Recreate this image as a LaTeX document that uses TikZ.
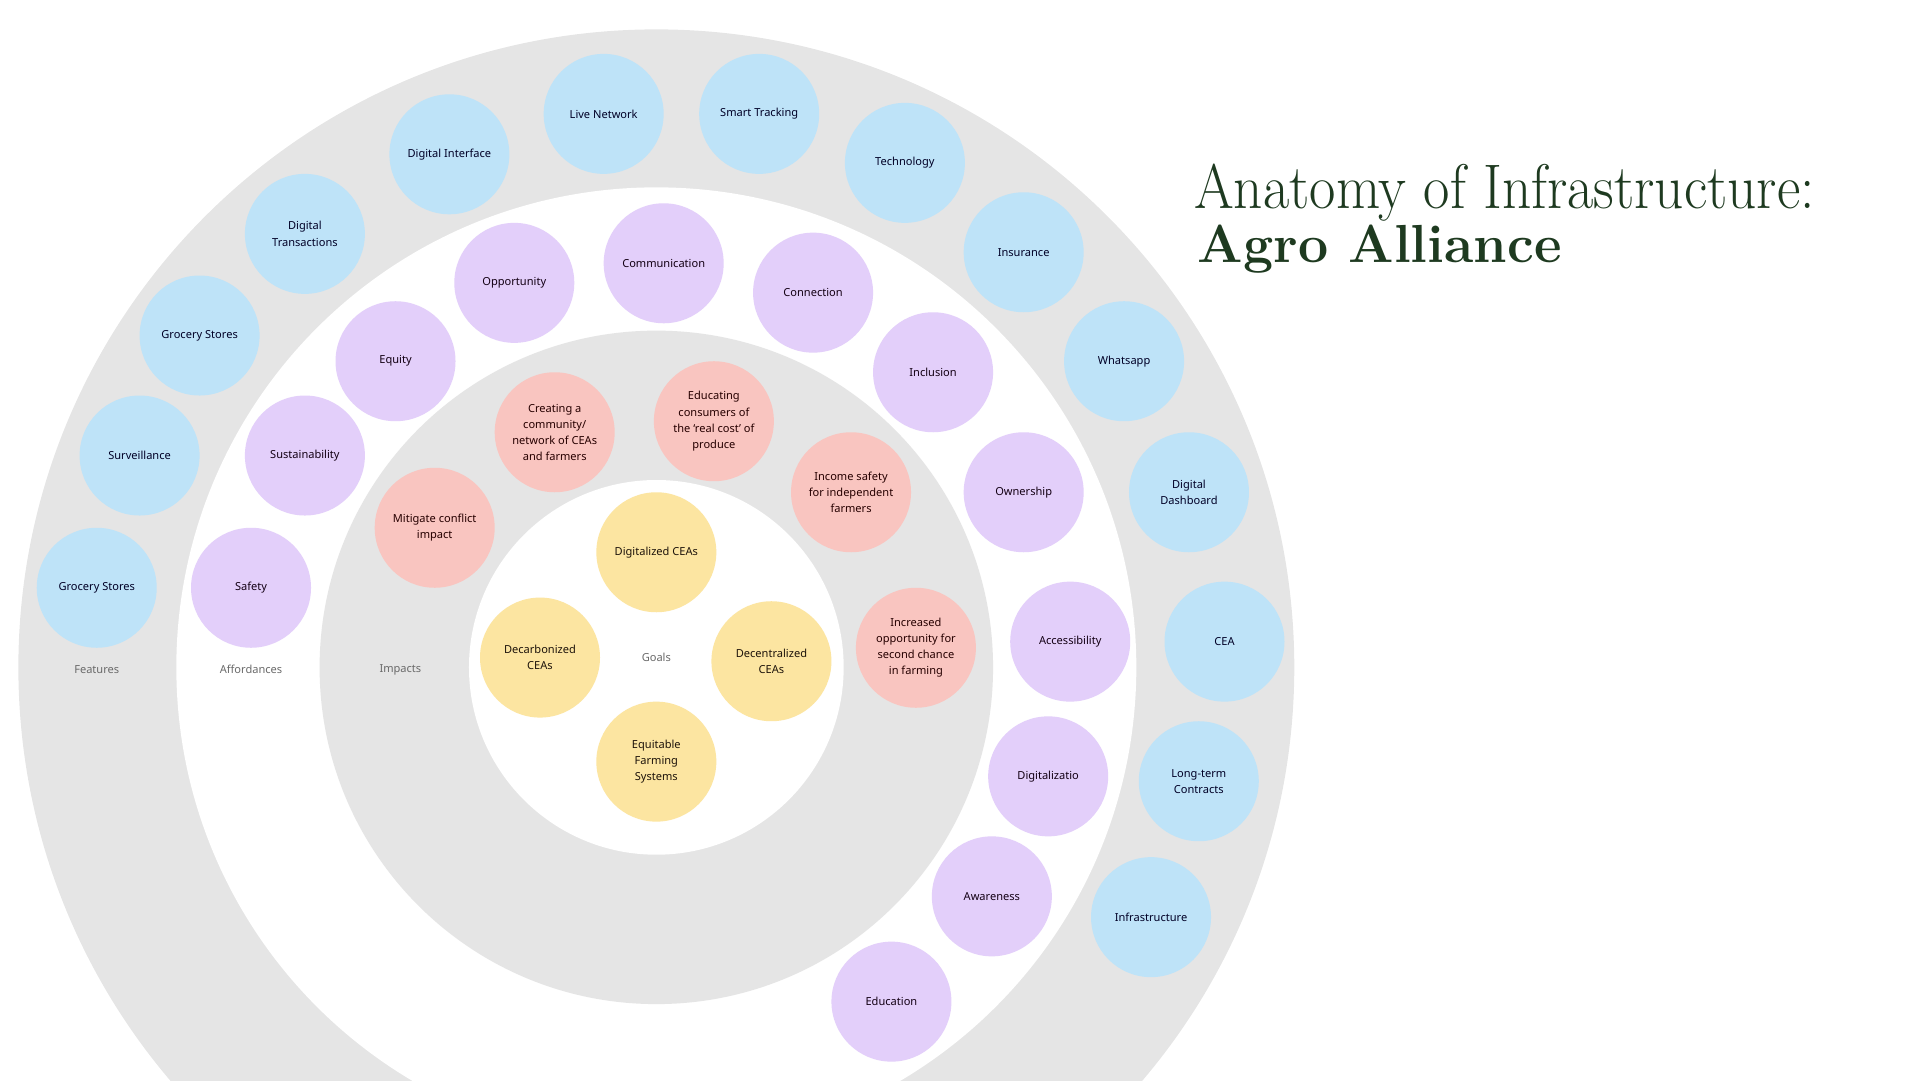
\documentclass[tikz,border=0pt]{standalone}
\usepackage{fontspec}
\setsansfont{Noto Sans}
\definecolor{ringgray}{HTML}{E5E5E5}
\definecolor{featblue}{HTML}{BEE3F8}
\definecolor{affpurple}{HTML}{E3CFFA}
\definecolor{imppink}{HTML}{F9C5C0}
\definecolor{goalyellow}{HTML}{FCE5A1}
\definecolor{titlegreen}{HTML}{1E3A20}
\definecolor{labelgray}{HTML}{6A6A6A}

\begin{document}
\begin{tikzpicture}[x=0.02449cm, y=-0.02449cm,
	bub/.style={circle, minimum size=2.4cm, inner sep=0pt, align=center,
		font=\sffamily\fontsize{6.3}{9.2}\selectfont},
	feat/.style={bub, fill=featblue, text=black!85!blue},
	aff/.style={bub, fill=affpurple, text=black!85!violet},
	imp/.style={bub, fill=imppink, text=black!85!red},
	goal/.style={bub, fill=goalyellow, text=black!85!brown},
	ringlabel/.style={text=labelgray, font=\sffamily\fontsize{6.3}{9.2}\selectfont}]
	\path[use as bounding box] (0,0) rectangle (1568,882);
	\clip (0,0) rectangle (1568,882);
	
	% rings
	\fill[ringgray] (536,545) circle (521);
	\fill[white] (536,545) circle (392);
	\fill[ringgray] (536,545) circle (275);
	\fill[white] (536,545) circle (153);
	
	% features
	\foreach \x/\y/\t [count=\i] in {
		79/480/{Grocery Stores}, 114/372/Surveillance, 163/274/{Grocery Stores},
		249/191/{Digital\\Transactions}, 367/126/{Digital Interface},
		493/93/{Live Network}, 620/93/{Smart Tracking}, 739/133/Technology,
		836/206/Insurance, 918/295/Whatsapp, 971/402/{Digital\\Dashboard},
		1000/524/CEA, 979/638/{Long-term\\Contracts}, 940/749/Infrastructure}
		\node[feat] (f\i) at (\x,\y) {\t};
	\node[ringlabel] (features) at (79,547) {Features};
	
	% affordances
	\foreach \x/\y/\t [count=\i] in {
		205/480/Safety, 249/372/Sustainability, 323/295/Equity,
		420/231/Opportunity, 542/215/Communication, 664/239/Connection,
		762/304/Inclusion, 836/402/Ownership, 874/524/Accessibility,
		856/634/Digitalizatio, 810/732/Awareness, 728/818/Education}
		\node[aff] (a\i) at (\x,\y) {\t};
	\node[ringlabel] (affordances) at (205,547) {Affordances};
	
	% impacts
	\node[imp] (i1) at (355,431) {Mitigate conflict\\impact};
	\node[imp] (i2) at (453,353) {Creating a\\community/\\network of CEAs\\and farmers};
	\node[imp] (i3) at (583,344) {Educating\\consumers of\\the `real cost' of\\produce};
	\node[imp] (i4) at (695,402) {Income safety\\for independent\\farmers};
	\node[imp] (i5) at (748,529) {Increased\\opportunity for\\second chance\\in farming};
	\node[ringlabel] (impacts) at (327,547) {Impacts};
	
	% goals
	\node[goal] (g1) at (536,451) {Digitalized CEAs};
	\node[goal] (g2) at (441,537) {Decarbonized\\CEAs};
	\node[goal] (g3) at (630,540) {Decentralized\\CEAs};
	\node[goal] (g4) at (536,622) {Equitable\\Farming\\Systems};
	\node[ringlabel] (goals) at (536,537) {Goals};
	
	% title
	\node[anchor=base west, inner sep=0pt, text=titlegreen, yscale=1.1,
		font=\fontsize{32.6}{32.6}\selectfont] (title) at (975,170) {Anatomy of Infrastructure:};
	\node[anchor=base west, inner sep=0pt, text=titlegreen,
		font=\bfseries\fontsize{30.5}{30.5}\selectfont] (subtitle) at (978,214) {Agro Alliance};
\end{tikzpicture}
\end{document}
